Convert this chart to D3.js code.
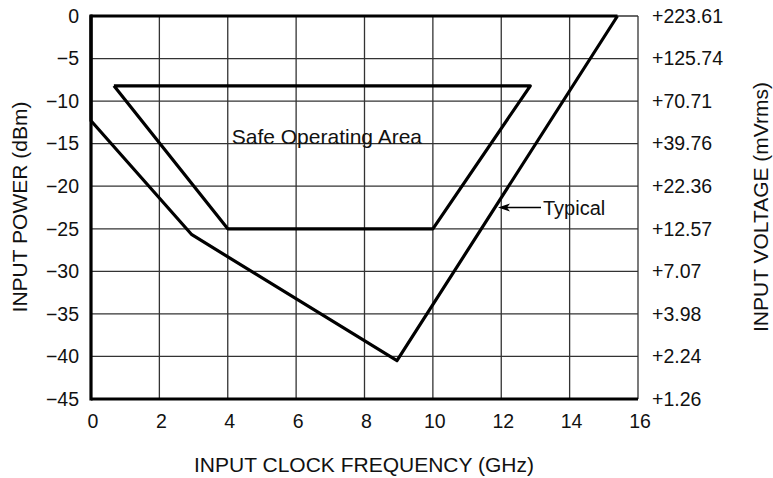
<!DOCTYPE html>
<html>
<head>
<meta charset="utf-8">
<script src="https://cdn.jsdelivr.net/npm/d3@7"></script>
<style>
  body { margin: 0; background: #fff; }
  text { font-family: "Liberation Sans", Arial, sans-serif; fill: #111; }
</style>
</head>
<body>
<div id="chart"></div>
<script>
// tick values
var freqTicks = [0, 2, 4, 6, 8, 10, 12, 14, 16];
var powerTicks = [0, -5, -10, -15, -20, -25, -30, -35, -40, -45];
var voltLabels = ["+223.61", "+125.74", "+70.71", "+39.76", "+22.36", "+12.57", "+7.07", "+3.98", "+2.24", "+1.26"];

// curves [GHz, dBm]
var typical = [[15.4, 0], [8.95, -40.5], [2.95, -25.7], [0, -12.3], [0, 0], [15.4, 0]];
var safeArea = [[0.67, -8.2], [12.85, -8.2], [10, -25], [4, -25], [0.67, -8.2]];

var W = 773, H = 478;
var svg = d3.select("#chart").append("svg").attr("width", W).attr("height", H);

var x = d3.scaleLinear().domain([0, 16]).range([91, 638]);
var y = d3.scaleLinear().domain([-45, 0]).range([399, 16]);

// grid
svg.append("g").selectAll("line").data(freqTicks).enter().append("line")
  .attr("x1", function(d) { return x(d); }).attr("x2", function(d) { return x(d); })
  .attr("y1", y(0)).attr("y2", y(-45))
  .attr("stroke", "#333").attr("stroke-width", 1.3);
svg.append("g").selectAll("line").data(powerTicks).enter().append("line")
  .attr("x1", x(0)).attr("x2", x(16))
  .attr("y1", function(d) { return y(d); }).attr("y2", function(d) { return y(d); })
  .attr("stroke", "#333").attr("stroke-width", 1.3);

// thick frame: left and bottom
svg.append("line").attr("x1", x(0)).attr("x2", x(0)).attr("y1", y(0) - 1.5).attr("y2", y(-45) + 1.5)
  .attr("stroke", "#000").attr("stroke-width", 3.2);
svg.append("line").attr("x1", x(0)).attr("x2", x(16)).attr("y1", y(-45)).attr("y2", y(-45))
  .attr("stroke", "#000").attr("stroke-width", 3.2);

var line = d3.line().x(function(d) { return x(d[0]); }).y(function(d) { return y(d[1]); });

svg.append("path").datum(typical).attr("d", line)
  .attr("fill", "none").attr("stroke", "#000").attr("stroke-width", 3.2).attr("stroke-linejoin", "round");
svg.append("path").datum(safeArea).attr("d", line)
  .attr("fill", "none").attr("stroke", "#000").attr("stroke-width", 3.2).attr("stroke-linejoin", "round");

// left tick labels
svg.append("g").selectAll("text").data(powerTicks).enter().append("text")
  .attr("x", 79).attr("y", function(d) { return y(d); }).attr("dy", "0.35em")
  .attr("text-anchor", "end").style("font-size", "19.5px")
  .text(function(d) { return d === 0 ? "0" : "\u2212" + Math.abs(d); });

// right tick labels
svg.append("g").selectAll("text").data(voltLabels).enter().append("text")
  .attr("x", 652).attr("y", function(d, i) { return y(powerTicks[i]); }).attr("dy", "0.35em")
  .attr("text-anchor", "start").style("font-size", "19.5px")
  .text(function(d) { return d; });

// bottom tick labels
svg.append("g").selectAll("text").data(freqTicks).enter().append("text")
  .attr("x", function(d) { return x(d) + 2; }).attr("y", 421).attr("dy", "0.35em")
  .attr("text-anchor", "middle").style("font-size", "19.5px")
  .text(function(d) { return d; });

// axis titles
svg.append("text").attr("x", 364).attr("y", 465).attr("dy", "0.35em")
  .attr("text-anchor", "middle").style("font-size", "21px")
  .text("INPUT CLOCK FREQUENCY (GHz)");
svg.append("text").attr("transform", "translate(20,207) rotate(-90)").attr("dy", "0.35em")
  .attr("text-anchor", "middle").style("font-size", "21px")
  .text("INPUT POWER (dBm)");
svg.append("text").attr("transform", "translate(761,207) rotate(-90)").attr("dy", "0.35em")
  .attr("text-anchor", "middle").style("font-size", "21px")
  .text("INPUT VOLTAGE (mVrms)");

// annotations
svg.append("text").attr("x", x(6.9)).attr("y", y(-14.2)).attr("dy", "0.35em")
  .attr("text-anchor", "middle").style("font-size", "21px")
  .text("Safe Operating Area");

var arrowY = y(-22.5);
svg.append("line").attr("x1", 541).attr("x2", 505).attr("y1", arrowY).attr("y2", arrowY)
  .attr("stroke", "#000").attr("stroke-width", 1.3);
svg.append("path").attr("d", "M498," + arrowY + " l12,-4 l-3,4 l3,4 Z").attr("fill", "#000");
svg.append("text").attr("x", 543).attr("y", arrowY).attr("dy", "0.35em")
  .attr("text-anchor", "start").style("font-size", "20px")
  .text("Typical");
</script>
</body>
</html>
